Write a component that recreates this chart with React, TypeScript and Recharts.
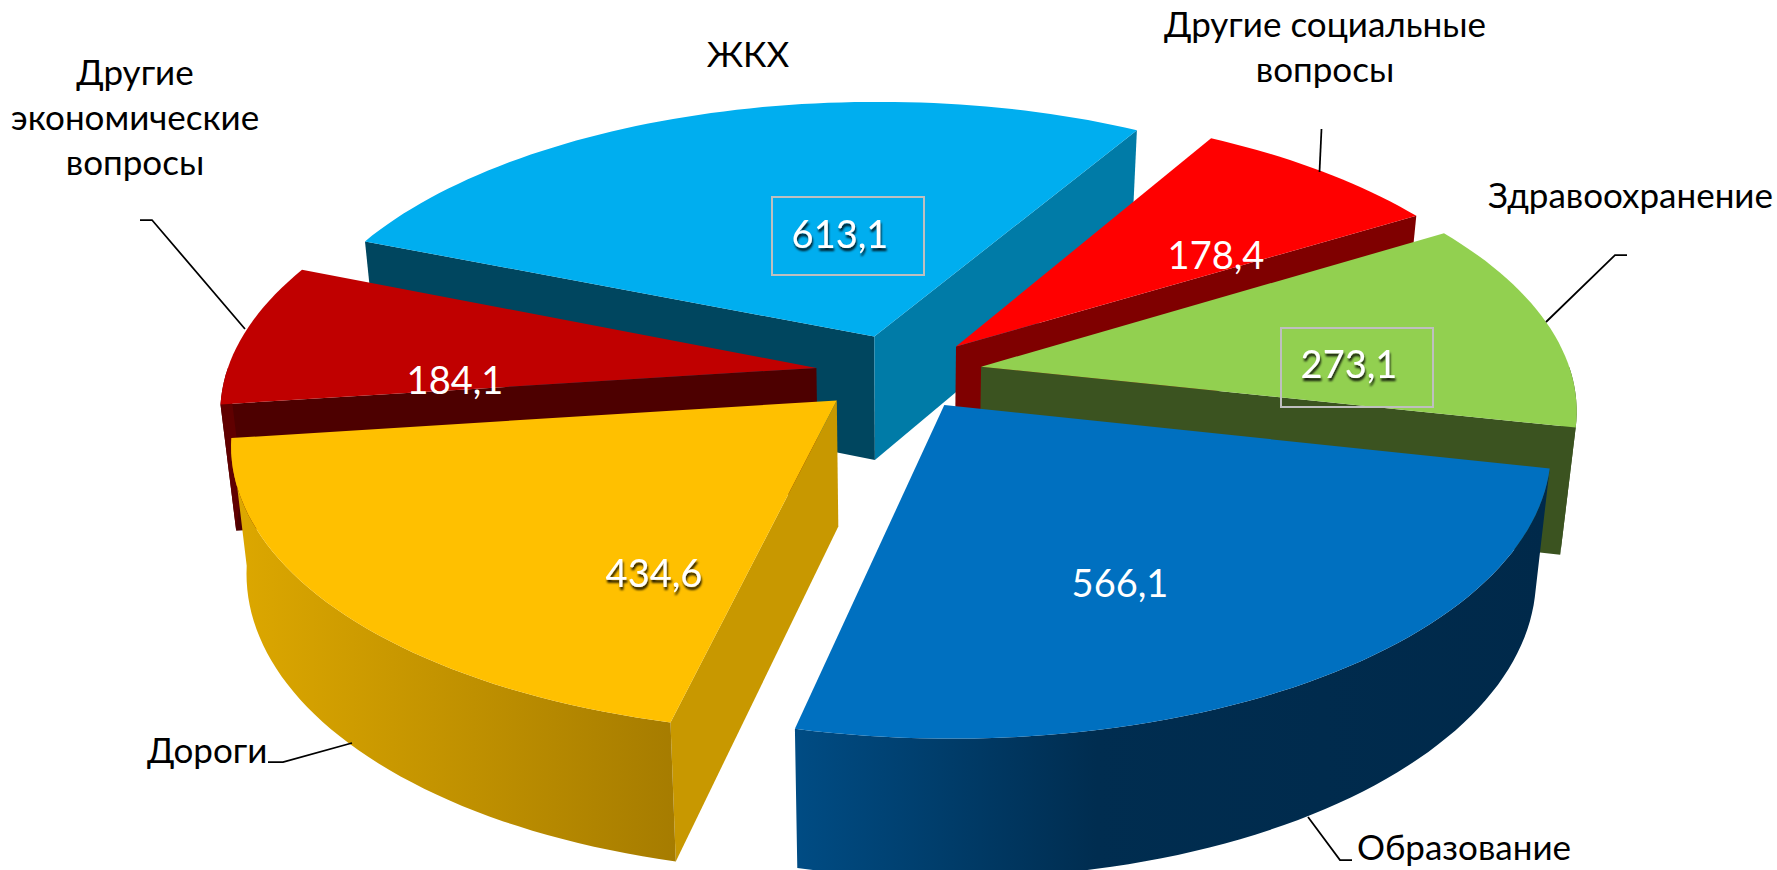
import { PieChart, Pie } from "recharts";

const categories = ["ЖКХ", "Другие социальные вопросы", "Здравоохранение", "Образование", "Дороги", "Другие экономические вопросы"];
const values = [613.1, 178.4, 273.1, 566.1, 434.6, 184.1];

const rows = categories.map((name, i) => ({ name, value: values[i] }));

// back to front, the pie draws its slices in data order otherwise
const paintOrder = [0, 1, 2, 5, 4, 3];

const tops = ["#00AEEF", "#FF0000", "#92D050", "#0070C0", "#FFC000", "#C00000"];
const walls = ["#00465F", "#7F0000", "#3B5320", "#00294A", "#C89800", "#4D0000"];
const endWalls = ["#007BA7", "#7F0000", "#3B5320", "#00294A", "#C89800", "#4D0000"];
const explode = [0.142, 0.135, 0.138, 0.135, 0.145, 0.145];

const perspective = 0.14;
const tilt = 0.4695;
const depth = 125;
const shrink = 0.977;

const textFont = "Lato, sans-serif";

// label placement, same order as categories
const valueSpots = [
  { x: 840, y: 248, shadow: true, box: [772, 197, 152, 78] },
  { x: 1216, y: 269, shadow: false },
  { x: 1349, y: 378, shadow: true, box: [1281, 328, 152, 79] },
  { x: 1120, y: 597, shadow: false },
  { x: 654, y: 587, shadow: true },
  { x: 455, y: 394, shadow: false },
];
const nameSpots = [
  { x: 748, lines: [["ЖКХ", 67]], anchor: "middle", leader: "" },
  { x: 1325, lines: [["Другие социальные", 37], ["вопросы", 82]], anchor: "middle", leader: "M1321.5 129L1319.5 172" },
  { x: 1773, lines: [["Здравоохранение", 208]], anchor: "end", leader: "M1627 255H1615L1546 322" },
  { x: 1357, lines: [["Образование", 860]], anchor: "start", leader: "M1308 817L1340 860H1352" },
  { x: 147, lines: [["Дороги", 763]], anchor: "start", leader: "M268 762H283L352 743" },
  { x: 135, lines: [["Другие", 85], ["экономические", 130], ["вопросы", 175]], anchor: "middle", leader: "M140 220H152L245 329" },
];

const rad = Math.PI / 180;

function Slice3D(props: any) {
  const { cx, cy, outerRadius, startAngle, endAngle, index } = props;
  const a = Math.min(startAngle, endAngle);
  const b = Math.max(startAngle, endAngle);
  const t0 = 90 - b;
  const t1 = 90 - a;
  const tm = (t0 + t1) / 2;
  const ex = explode[index];
  const ou = ex * Math.sin(tm * rad);
  const ov = -ex * Math.cos(tm * rad);

  const top = (u: number, v: number) => {
    const f = 1 / (1 - perspective * (v + ov));
    return [cx + outerRadius * (u + ou) * f, cy + outerRadius * tilt * (v + ov) * f, f];
  };
  const low = (p: number[]) => [cx + (p[0] - cx) * shrink, cy + (p[1] - cy) * shrink + depth * p[2]];
  const rim = (t: number) => top(Math.sin(t * rad), -Math.cos(t * rad));
  const path = (pts: number[][]) => "M" + pts.map((p) => p[0].toFixed(1) + " " + p[1].toFixed(1)).join("L") + "Z";
  const arc = (from: number, to: number) => {
    const out = [];
    const n = Math.max(2, Math.ceil((to - from) / 1.5));
    for (let i = 0; i <= n; i++) out.push(rim(from + ((to - from) * i) / n));
    return out;
  };

  const apex = top(0, 0);
  const mid = rim(tm);
  const facing = (e: number[]) => {
    const c = (e[0] - apex[0]) * (mid[1] - apex[1]) - (e[1] - apex[1]) * (mid[0] - apex[0]);
    return c * (e[0] - apex[0]) < 0;
  };
  const e0 = rim(t0);
  const e1 = rim(t1);
  const from = Math.max(t0, 90);
  const to = Math.min(t1, 270);
  const curve = to > from ? arc(from, to) : null;

  return (
    <g>
      {facing(e0) && <path d={path([apex, e0, low(e0), low(apex)])} fill={walls[index]} />}
      {facing(e1) && <path d={path([apex, e1, low(e1), low(apex)])} fill={endWalls[index]} />}
      {curve && <path d={path([...curve, ...[...curve].reverse().map(low)])} fill={`url(#curve${index})`} />}
      <path d={path([apex, ...arc(t0, t1)])} fill={tops[index]} />
    </g>
  );
}

function SliceLabel(props: any) {
  const i = props.index;
  const spot = valueSpots[i];
  const tag = nameSpots[i];
  return (
    <g fontFamily={textFont}>
      {tag.leader && <path d={tag.leader} fill="none" stroke="#000" strokeWidth={1.75} />}
      {tag.lines.map((l: any) => (
        <text key={l[0]} x={tag.x} y={l[1]} textAnchor={tag.anchor as any} fontSize={35} fill="#000">
          {l[0]}
        </text>
      ))}
      {spot.box && <rect x={spot.box[0]} y={spot.box[1]} width={spot.box[2]} height={spot.box[3]} fill="none" stroke="#BFBFBF" strokeWidth={2} />}
      <text x={spot.x} y={spot.y} textAnchor="middle" fontSize={38} fill="#fff" filter={spot.shadow ? "url(#valueShadow)" : undefined}>
        {props.value.toFixed(1).replace(".", ",")}
      </text>
    </g>
  );
}

const pieProps = {
  data: rows,
  dataKey: "value",
  nameKey: "name",
  cx: 901,
  cy: 373,
  innerRadius: 0,
  outerRadius: 590,
  startAngle: 158,
  endAngle: -202,
  stroke: "none",
  isAnimationActive: false,
};

export default function App() {
  return (
    <div style={{ position: "absolute", left: 0, top: 0, width: 1777, height: 870, background: "#fff", overflow: "hidden" }}>
      <PieChart width={1777} height={870} margin={{ top: 0, right: 0, bottom: 0, left: 0 }}>
        <defs>
          <linearGradient id="curve3" x1="0" y1="0" x2="1" y2="0">
            <stop offset="0" stopColor="#004C84" />
            <stop offset="0.4" stopColor="#002D50" />
            <stop offset="1" stopColor="#00294A" />
          </linearGradient>
          <linearGradient id="curve4" x1="0" y1="0" x2="1" y2="0">
            <stop offset="0" stopColor="#DDA800" />
            <stop offset="1" stopColor="#A67C00" />
          </linearGradient>
          <linearGradient id="curve5" x1="0" y1="0" x2="1" y2="0">
            <stop offset="0" stopColor="#600000" />
            <stop offset="1" stopColor="#600000" />
          </linearGradient>
          <linearGradient id="curve2" x1="0" y1="0" x2="1" y2="0">
            <stop offset="0" stopColor="#3B5320" />
            <stop offset="1" stopColor="#3B5320" />
          </linearGradient>
          <filter id="valueShadow" x="-20%" y="-20%" width="140%" height="150%">
            <feDropShadow dx="1" dy="3" stdDeviation="1.3" floodColor="#000" floodOpacity="0.85" />
          </filter>
        </defs>
        {paintOrder.map((idx) => (
          <Pie
            key={idx}
            {...pieProps}
            shape={(p: any) => (p.index === idx || p.name === categories[idx] ? <Slice3D {...p} index={idx} /> : <g />)}
          />
        ))}
        <Pie {...pieProps} shape={() => <g />} label={SliceLabel} labelLine={false} />
      </PieChart>
    </div>
  );
}
